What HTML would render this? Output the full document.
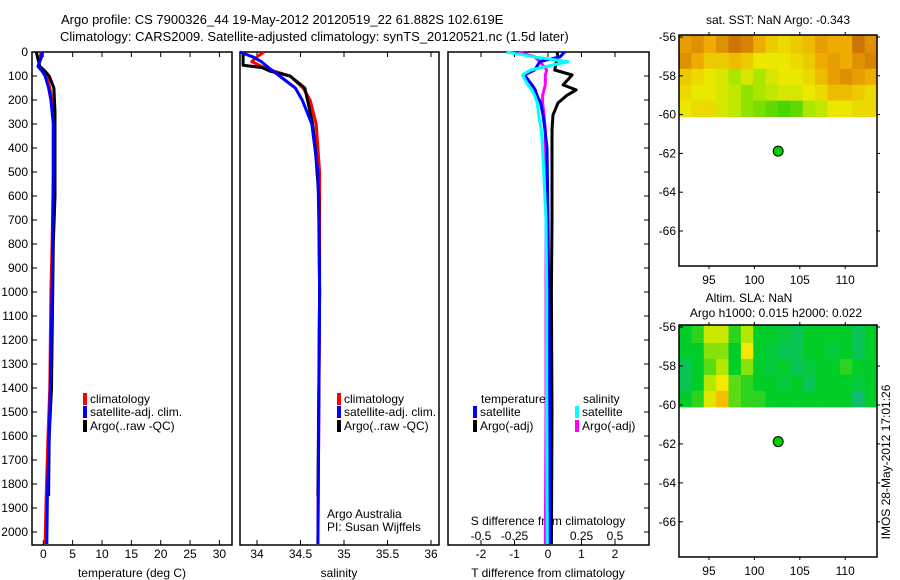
<!DOCTYPE html>
<html><head><meta charset="utf-8"><style>
body{margin:0;background:#fff;}
svg{display:block;font-family:"Liberation Sans",sans-serif;}
</style></head><body>
<svg id="c" width="900" height="580" viewBox="0 0 900 580">
<text x="61" y="24" font-size="13">Argo profile: CS 7900326_44 19-May-2012 20120519_22 61.882S 102.619E</text>
<text x="60" y="41" font-size="13">Climatology: CARS2009. Satellite-adjusted climatology: synTS_20120521.nc (1.5d later)</text>
</svg>
<script>
// ---------- data ----------
const tDepth=[0,20,40,60,80,100,150,200,300,500,800,1000,1400,1600,1850,2050];
const tClim=[-0.3,-0.6,-0.7,-0.7,0.0,0.6,1.1,1.5,1.7,1.7,1.5,1.3,1.1,0.8,0.5,0.3];
const tSat=[-0.2,-0.3,-0.6,-0.9,-0.2,0.3,0.9,1.3,1.7,1.7,1.6,1.5,1.2,1.0,0.7,0.6];
const tArgoDepth=[0,20,40,60,80,100,150,250,600,800,1400,1600,1850];
const tArgo=[-1.2,-1.0,-0.8,-0.6,0.3,1.0,1.8,2.0,2.0,1.7,1.4,1.0,0.9];
const sDepth=[0,20,40,70,100,150,200,300,500,700,1000,1500,2050];
const sClim=[34.08,34.0,33.94,34.11,34.38,34.53,34.61,34.68,34.72,34.72,34.72,34.71,34.70];
const sSat=[33.8,33.95,34.05,34.15,34.26,34.44,34.52,34.63,34.70,34.71,34.72,34.71,34.70];
const sArgoDepth=[0,20,55,65,80,100,150,200,300,400,600,1000,1850];
const sArgo=[33.84,33.84,33.84,34.06,34.15,34.38,34.55,34.58,34.64,34.67,34.71,34.72,34.70];
const dDepth=[0,20,40,75,96,137,158,180,212,262,325,400,700,1000,1500,2050];
const dTArgo=[0.27,0.3,0.25,0.2,0.72,0.45,0.84,0.57,0.3,0.15,0.12,0.12,0.12,0.1,0.12,0.1];
const dTSat=[0.5,0.36,-0.24,-0.4,-0.7,-0.48,-0.38,-0.33,-0.22,-0.15,-0.09,-0.03,0.0,0.02,0.05,0.06];
const dSSat=[-0.31,-0.11,0.15,-0.13,-0.19,-0.15,-0.12,-0.1,-0.08,-0.07,-0.05,-0.04,-0.015,-0.01,-0.01,-0.005];
const dSArgo=[-0.22,-0.1,-0.06,-0.01,-0.02,-0.02,-0.03,-0.04,-0.04,-0.03,-0.02,-0.02,-0.015,-0.015,-0.015,-0.02];
const depthTicks=[0,100,200,300,400,500,600,700,800,900,1000,1100,1200,1300,1400,1500,1600,1700,1800,1900,2000];
const tempTicks=[0,5,10,15,20,25,30];
const salTicks=[34,34.5,35,35.5,36];
const tdTicks=[-2,-1,0,1,2];
const sdTicks=[-0.5,-0.25,0,0.25,0.5];
const latTicks=[-56,-58,-60,-62,-64,-66];
const lonTicks=[95,100,105,110];
const argoLon=102.619, argoLat=-61.882;
const sstGrid=[
[0.75,0.8,0.7,0.8,0.9,0.85,0.7,0.6,0.55,0.6,0.65,0.75,0.7,0.7,0.9,0.8],
[0.8,0.7,0.6,0.6,0.65,0.6,0.5,0.5,0.5,0.55,0.6,0.7,0.75,0.7,0.8,0.85],
[0.6,0.55,0.5,0.45,0.35,0.45,0.35,0.45,0.5,0.5,0.55,0.65,0.75,0.8,0.75,0.7],
[0.55,0.5,0.5,0.45,0.4,0.3,0.35,0.4,0.45,0.45,0.5,0.55,0.65,0.65,0.6,0.55],
[0.5,0.55,0.55,0.45,0.4,0.3,0.25,0.2,0.15,0.2,0.35,0.4,0.5,0.5,0.55,0.55]];
const slaGrid=[
[0.3,0.35,0.55,0.55,0.35,0.5,0.3,0.3,0.28,0.25,0.3,0.3,0.3,0.3,0.25,0.3],
[0.3,0.3,0.45,0.45,0.3,0.65,0.3,0.28,0.25,0.25,0.3,0.3,0.28,0.3,0.25,0.3],
[0.25,0.3,0.4,0.5,0.3,0.45,0.3,0.28,0.3,0.25,0.28,0.3,0.3,0.35,0.3,0.3],
[0.25,0.3,0.5,0.65,0.4,0.35,0.3,0.3,0.28,0.3,0.25,0.3,0.3,0.3,0.28,0.3],
[0.3,0.35,0.6,0.75,0.4,0.35,0.35,0.3,0.3,0.3,0.3,0.3,0.3,0.3,0.22,0.3]];

// ---------- helpers ----------
const svg=document.getElementById('c');
const NS='http://www.w3.org/2000/svg';
function mk(tag,attrs,parent){const e=document.createElementNS(NS,tag);for(const k in attrs)e.setAttribute(k,attrs[k]);(parent||svg).appendChild(e);return e;}
function txt(x,y,s,size,anchor){const t=mk('text',{x:x,y:y,'font-size':size||12,'text-anchor':anchor||'start'});t.textContent=s;return t;}
const top0=52, bot0=545;
const yD=d=>top0+d*0.24;
const xT=t=>43.3+t*5.87;
const xS=s=>257+(s-34)*87;
const xDT=v=>548+v*33.5;
const xDS=v=>548+v*134;

function frame(x1,x2,name){const r=mk('rect',{x:x1,y:top0,width:x2-x1,height:bot0-top0,fill:'none',stroke:'#000','stroke-width':1.5});}
frame(32,232,'temperature-panel');frame(240,439,'salinity-panel');frame(448,649,'difference-panel');

// depth axis
depthTicks.forEach(d=>{const y=yD(d);mk('line',{x1:32,x2:37,y1:y,y2:y,stroke:'#000'});
 const t=txt(28,y+4,String(d),12,'end');
 mk('line',{x1:644,x2:649,y1:y,y2:y,stroke:'#000'});});
function xticks(arr,fx,labelY,fmt,nm){arr.forEach(v=>{const x=fx(v);mk('line',{x1:x,x2:x,y1:top0,y2:top0+5,stroke:'#000'});mk('line',{x1:x,x2:x,y1:bot0,y2:bot0-5,stroke:'#000'});
 const t=txt(x,labelY,fmt?fmt(v):String(v),12,'middle');});}
xticks(tempTicks,xT,558,null,'temperature-tick-label');
xticks(salTicks,xS,558,null,'salinity-tick-label');
xticks(tdTicks,xDT,558,null,'t-diff-tick-label');
sdTicks.forEach(v=>{const t=txt(xDS(v),540,String(v).replace('0.','.').replace('-.','-.'),12,'middle');t.textContent=(v===0?'0':String(v));});

let l;
l=txt(132,577,'temperature (deg C)',12,'middle');
l=txt(339,577,'salinity',12,'middle');
l=txt(548,577,'T difference from climatology',12,'middle');
l=txt(548,525,'S difference from climatology',12,'middle');
l=txt(327,518,'Argo Australia',12);
l=txt(327,531,'PI: Susan Wijffels',12);

function series(depths,vals,fx,color,name,clipX1,clipX2){
 let pts=[];for(let i=0;i<depths.length;i++){pts.push(fx(vals[i]).toFixed(1)+','+Math.min(yD(depths[i]),bot0-1).toFixed(1));}
 const p=mk('polyline',{points:pts.join(' '),fill:'none',stroke:color,'stroke-width':3,'stroke-linejoin':'round'});
 }
series(tDepth,tClim,xT,'#ff0000','temp-climatology-line');
series(tArgoDepth,tArgo,xT,'#000000','temp-argo-line');
series(tDepth,tSat,xT,'#0000ff','temp-satellite-line');
series(sDepth,sClim,xS,'#ff0000','sal-climatology-line');
series(sArgoDepth,sArgo,xS,'#000000','sal-argo-line');
series(sDepth,sSat,xS,'#0000ff','sal-satellite-line');
series(dDepth,dTArgo,xDT,'#000000','tdiff-argo-line');
series(dDepth,dSArgo,xDS,'#ff00ff','sdiff-argo-line');
series(dDepth,dTSat,xDT,'#0000ff','tdiff-satellite-line');
series(dDepth,dSSat,xDS,'#00ffff','sdiff-satellite-line');

function legend(x,y,color,label,nm){mk('rect',{x:x,y:y-10,width:4,height:12,fill:color});const t=txt(x+7,y,label,12);}
legend(83,403,'#ff0000','climatology','legend-climatology');
legend(83,416,'#0000ff','satellite-adj. clim.','legend-satellite');
legend(83,430,'#000000','Argo(..raw -QC)','legend-argo');
legend(337,403,'#ff0000','climatology','legend2-climatology');
legend(337,416,'#0000ff','satellite-adj. clim.','legend2-satellite');
legend(337,430,'#000000','Argo(..raw -QC)','legend2-argo');
l=txt(481,403,'temperature',12);
legend(473,416,'#0000ff','satellite','legend-t-satellite');
legend(473,430,'#000000','Argo(-adj)','legend-t-argo');
l=txt(583,403,'salinity',12);
legend(575,416,'#00ffff','satellite','legend-s-satellite');
legend(575,430,'#ff00ff','Argo(-adj)','legend-s-argo');

// ---------- maps ----------
function cmapSST(v){const s=[[0,[0,200,0]],[0.35,[170,230,0]],[0.5,[235,232,0]],[0.7,[238,172,0]],[1,[190,90,0]]];return interp(s,v);}
function cmapSLA(v){const s=[[0.2,[20,185,130]],[0.3,[0,205,40]],[0.5,[180,232,0]],[0.65,[242,232,0]],[0.8,[245,170,0]]];return interp(s,v);}
function interp(s,v){if(v<=s[0][0])return 'rgb('+s[0][1]+')';for(let i=1;i<s.length;i++){if(v<=s[i][0]){const f=(v-s[i-1][0])/(s[i][0]-s[i-1][0]);const c=s[i-1][1].map((a,k)=>Math.round(a+(s[i][1][k]-a)*f));return 'rgb('+c+')';}}return 'rgb('+s[s.length-1][1]+')';}
function mapPanel(top,bottom,grid,cmap,name){
 const L=679,R=877,lon0=91.7,lon1=113.5;
 const yLat=lat=>top+2+(-56-lat)*19.4*((bottom-top)/231);
 const xLon=lon=>L+(lon-lon0)/(lon1-lon0)*(R-L);
 const rows=grid.length,cols=grid[0].length,latBot=-60.1;
 for(let r=0;r<rows;r++)for(let c=0;c<cols;c++){
  const la1=-56+(latBot+56)*r/rows+0.1*(r===0),la2=-56+(latBot+56)*(r+1)/rows;
  const y1=r===0?top:yLat(-56+(latBot+56)*r/rows),y2=yLat(la2);
  const x1=xLon(lon0+(lon1-lon0)*c/cols),x2=xLon(lon0+(lon1-lon0)*(c+1)/cols);
  const cell=mk('rect',{x:x1,y:y1,width:x2-x1+0.5,height:y2-y1+0.5,fill:cmap(grid[r][c])});
  }
 const f=mk('rect',{x:L,y:top,width:R-L,height:bottom-top,fill:'none',stroke:'#000','stroke-width':1.5});
 
 latTicks.forEach(la=>{const y=yLat(la);mk('line',{x1:L,x2:L+4,y1:y,y2:y,stroke:'#000'});mk('line',{x1:R,x2:R+3,y1:y,y2:y,stroke:'#000'});
  const t=txt(L-3,y+4,String(la),12,'end');});
 lonTicks.forEach(lo=>{const x=xLon(lo);mk('line',{x1:x,x2:x,y1:top,y2:top-3,stroke:'#000'});mk('line',{x1:x,x2:x,y1:bottom,y2:bottom+3,stroke:'#000'});
  const t=txt(x,bottom+18,String(lo),12,'middle');});
 const d=mk('circle',{cx:xLon(argoLon),cy:yLat(argoLat),r:5,fill:'#00cc00',stroke:'#000','stroke-width':1});
 
}
mapPanel(35,266,sstGrid,cmapSST,'sst-map');
mapPanel(325,557,slaGrid,cmapSLA,'sla-map');
l=txt(778,24,'sat. SST: NaN Argo: -0.343',12,'middle');
l=txt(749,302,'Altim. SLA: NaN',12,'middle');
l=txt(776,317,'Argo h1000: 0.015 h2000: 0.022',12,'middle');
l=txt(0,0,'IMOS 28-May-2012 17:01:26',12,'middle');l.setAttribute('transform','translate(890,462) rotate(-90)');


</script>
</body></html>
